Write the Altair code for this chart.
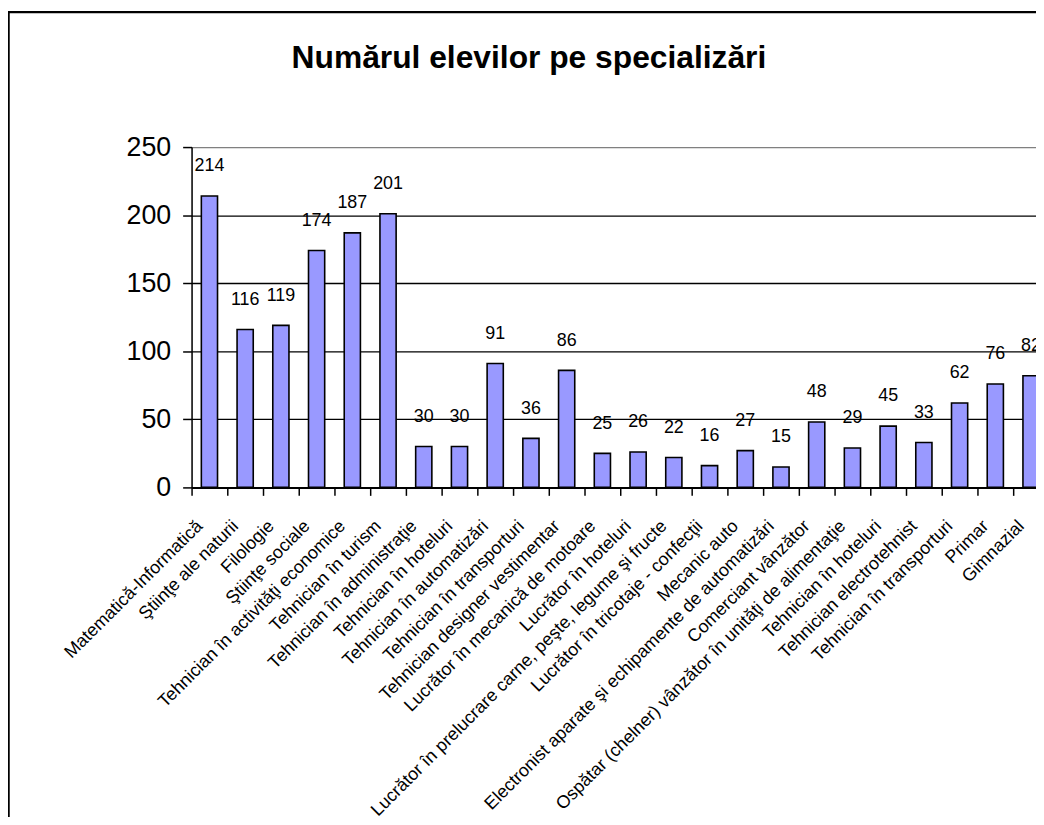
import json
import altair as alt
import pandas as pd

categories = [
    "Matematică-Informatică",
    "Ştiinţe ale naturii",
    "Filologie",
    "Ştiinţe sociale",
    "Tehnician în activităţi economice",
    "Tehnician în turism",
    "Tehnician în administraţie",
    "Tehnician în hoteluri",
    "Tehnician în automatizări",
    "Tehnician în transporturi",
    "Tehnician designer vestimentar",
    "Lucrător în mecanică de motoare",
    "Lucrător în hoteluri",
    "Lucrător în prelucrare carne, peşte, legume şi fructe",
    "Lucrător în tricotaje - confecţii",
    "Mecanic auto",
    "Electronist aparate şi echipamente de automatizări",
    "Comerciant vânzător",
    "Ospătar (chelner) vânzător în unităţi de alimentaţie",
    "Tehnician în hoteluri",
    "Tehnician electrotehnist",
    "Tehnician în transporturi",
    "Primar",
    "Gimnazial",
]
values = [214, 116, 119, 174, 187, 201, 30, 30, 91, 36, 86, 25, 26, 22, 16, 27, 15, 48, 29, 45, 33, 62, 76, 82]
y_ticks = [0, 50, 100, 150, 200, 250]
title_text = "Numărul elevilor pe specializări"

df = pd.DataFrame({"idx": list(range(len(categories))), "name": categories, "value": values})
label_expr = json.dumps(categories, ensure_ascii=False) + "[datum.value]"

FONT = "Liberation Sans"

x_enc = alt.X(
    "idx:O",
    title=None,
    scale=alt.Scale(range=[0, 864], paddingInner=0.547, paddingOuter=0.2735),
    axis=alt.Axis(
        labelExpr=label_expr,
        labelAngle=-45,
        labelAlign="right",
        labelBaseline="middle",
        labelFontSize=18,
        labelFont=FONT,
        labelColor="black",
        labelPadding=28,
        labelOffset=8,
        labelLimit=800,
        labelOverlap=False,
        tickOffset=-18,
        tickSize=8,
        tickColor="black",
        tickWidth=1.5,
        domainColor="black",
        domainWidth=2,
        grid=False,
    ),
)
y_enc = alt.Y(
    "value:Q",
    title=None,
    scale=alt.Scale(domain=[0, 250], nice=False),
    axis=alt.Axis(
        values=y_ticks,
        labelFontSize=27,
        labelFont=FONT,
        labelColor="black",
        labelPadding=12,
        tickSize=9,
        tickColor="black",
        tickWidth=1.5,
        domainColor="black",
        domainWidth=1.5,
        gridColor={"condition": {"test": "datum.value == 250", "value": "#808080"}, "value": "black"},
        gridWidth=1.3,
    ),
)

bars = alt.Chart(df).mark_bar(fill="#9999FF", stroke="black", strokeWidth=1.6).encode(x=x_enc, y=y_enc)
labels = alt.Chart(df).mark_text(
    dy=-30, fontSize=18, font=FONT, color="black", baseline="middle", align="center"
).encode(x=x_enc, y=y_enc, text="value:Q")

frame = alt.Chart(pd.DataFrame({"a": [0]})).mark_rect(
    fillOpacity=0, stroke="black", strokeWidth=2.5
).encode(
    x=alt.value(-184.5), x2=alt.value(1000), y=alt.value(-136), y2=alt.value(800)
)

title = alt.Chart(pd.DataFrame({"t": [title_text]})).mark_text(
    fontSize=32, font=FONT, fontWeight="bold", color="black", align="center", baseline="alphabetic"
).encode(x=alt.value(340), y=alt.value(-80), text="t:N")

chart = (
    alt.layer(frame, bars, labels, title)
    .properties(
        width=851,
        height=343,
        autosize=alt.AutoSizeParams(type="none"),
        padding={"left": 185, "top": 137, "right": 0, "bottom": 329},
    )
    .configure_view(fill="#C0C0C0", stroke=None)
    .configure(background="white")
)

chart.save("out.html", embed_options={"renderer": "svg", "actions": False})
